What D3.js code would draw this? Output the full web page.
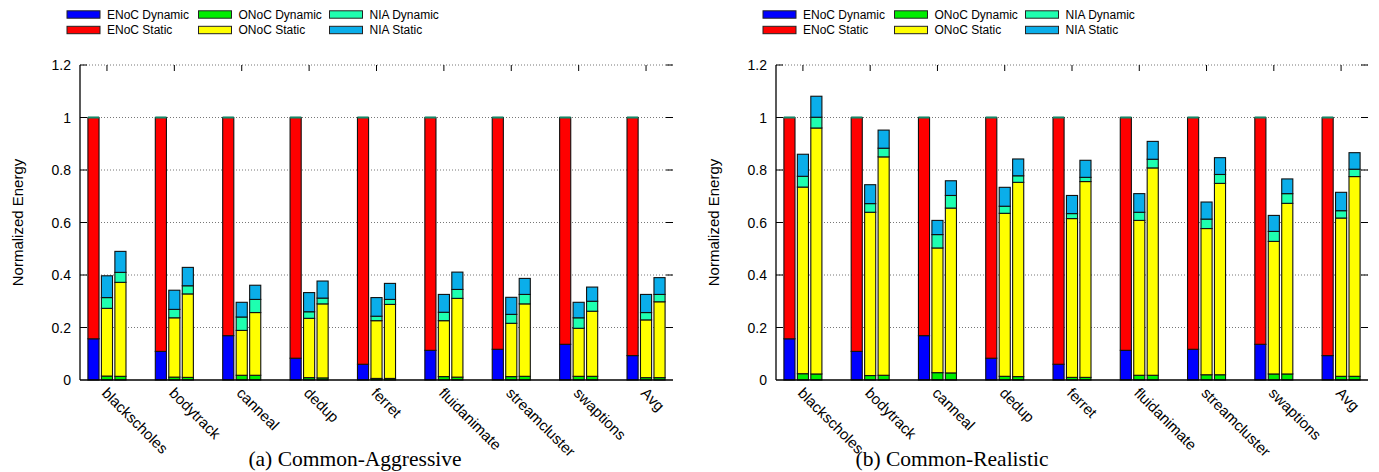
<!DOCTYPE html>
<html>
<head>
<meta charset="utf-8">
<script src="https://cdn.jsdelivr.net/npm/d3@7/dist/d3.min.js"></script>
<style>
  body { margin: 0; background: #fff; }
  svg { display: block; font-family: "Liberation Sans", Arial, sans-serif; }
</style>
</head>
<body>
<div id="chart"></div>
<script>
const categories = ['blackscholes', 'bodytrack', 'canneal', 'dedup', 'ferret',
  'fluidanimate', 'streamcluster', 'swaptions', 'Avg'];
const seriesNames = ['ENoC Dynamic', 'ENoC Static', 'ONoC Dynamic', 'ONoC Static', 'NIA Dynamic', 'NIA Static'];
const seriesColors = ['#0000ff', '#ff0000', '#00ee00', '#ffff00', '#1effb0', '#0aaeea'];
const yTickValues = [0, 0.2, 0.4, 0.6, 0.8, 1, 1.2];
const yTickLabels = ['0', '0.2', '0.4', '0.6', '0.8', '1', '1.2'];

// ENoC bar (same in both panels)
const enocDynamic = [0.157, 0.109, 0.169, 0.083, 0.060, 0.113, 0.117, 0.136, 0.093];
const enocStatic  = [0.843, 0.891, 0.831, 0.917, 0.940, 0.887, 0.883, 0.864, 0.907];

// (a) Common-Aggressive, middle bar
const aggOnocDynB = [0.015, 0.011, 0.018, 0.009, 0.006, 0.013, 0.013, 0.014, 0.009];
const aggOnocStaB = [0.258, 0.226, 0.171, 0.226, 0.220, 0.213, 0.203, 0.183, 0.220];
const aggNiaDynB  = [0.041, 0.032, 0.051, 0.025, 0.017, 0.032, 0.034, 0.040, 0.028];
const aggNiaStaB  = [0.083, 0.073, 0.056, 0.073, 0.071, 0.068, 0.065, 0.059, 0.069];
// (a) Common-Aggressive, right bar
const aggOnocDynC = [0.014, 0.010, 0.018, 0.008, 0.006, 0.011, 0.014, 0.014, 0.009];
const aggOnocStaC = [0.358, 0.318, 0.239, 0.282, 0.282, 0.300, 0.276, 0.248, 0.289];
const aggNiaDynC  = [0.038, 0.031, 0.050, 0.022, 0.019, 0.034, 0.036, 0.038, 0.028];
const aggNiaStaC  = [0.080, 0.070, 0.054, 0.065, 0.061, 0.066, 0.061, 0.054, 0.064];

// (b) Common-Realistic, middle bar
const realOnocDynB = [0.024, 0.017, 0.028, 0.014, 0.010, 0.018, 0.020, 0.023, 0.014];
const realOnocStaB = [0.711, 0.622, 0.475, 0.621, 0.605, 0.590, 0.557, 0.505, 0.603];
const realNiaDynB  = [0.041, 0.033, 0.051, 0.027, 0.019, 0.031, 0.036, 0.038, 0.028];
const realNiaStaB  = [0.084, 0.072, 0.054, 0.072, 0.069, 0.071, 0.065, 0.061, 0.070];
// (b) Common-Realistic, right bar
const realOnocDynC = [0.023, 0.018, 0.027, 0.013, 0.010, 0.018, 0.020, 0.023, 0.014];
const realOnocStaC = [0.937, 0.832, 0.628, 0.740, 0.746, 0.790, 0.729, 0.650, 0.761];
const realNiaDynC  = [0.041, 0.033, 0.048, 0.025, 0.016, 0.033, 0.034, 0.037, 0.028];
const realNiaStaC  = [0.080, 0.069, 0.056, 0.064, 0.065, 0.068, 0.064, 0.056, 0.063];

const width = 1379;
const height = 472;
const plotTop = 65;
const plotBottom = 380;
const barOffsets = [-0.2, 0, 0.2];
const barWidth = 0.165;

const svg = d3.select('#chart')
  .append('svg')
  .attr('width', width)
  .attr('height', height);

const buildRows = (onoc) => {
  const rows = [];
  categories.forEach((c, i) => {
    rows.push({ cat: i, bar: 0, 'ENoC Dynamic': enocDynamic[i], 'ENoC Static': enocStatic[i],
      'ONoC Dynamic': 0, 'ONoC Static': 0, 'NIA Dynamic': 0, 'NIA Static': 0 });
    onoc.forEach((b, j) => {
      rows.push({ cat: i, bar: j + 1, 'ENoC Dynamic': 0, 'ENoC Static': 0,
        'ONoC Dynamic': b[0][i], 'ONoC Static': b[1][i], 'NIA Dynamic': b[2][i], 'NIA Static': b[3][i] });
    });
  });
  return rows;
};

const panels = [
  { left: 80, right: 673, caption: '(a) Common-Aggressive', captionX: 355,
    rows: buildRows([[aggOnocDynB, aggOnocStaB, aggNiaDynB, aggNiaStaB],
                     [aggOnocDynC, aggOnocStaC, aggNiaDynC, aggNiaStaC]]) },
  { left: 776, right: 1368, caption: '(b) Common-Realistic', captionX: 952,
    rows: buildRows([[realOnocDynB, realOnocStaB, realNiaDynB, realNiaStaB],
                     [realOnocDynC, realOnocStaC, realNiaDynC, realNiaStaC]]) }
];

const drawPanel = (p) => {
  const g = svg.append('g');
  const x = d3.scaleLinear().domain([-0.4, 8.4]).range([p.left, p.right]);
  const y = d3.scaleLinear().domain([0, 1.2]).range([plotBottom, plotTop]);
  const bw = x(barWidth) - x(0);

  // grid + y ticks
  yTickValues.forEach((v, i) => {
    if (v > 0) {
      g.append('line')
        .attr('x1', p.left).attr('x2', p.right)
        .attr('y1', y(v)).attr('y2', y(v))
        .attr('stroke', '#777')
        .attr('stroke-dasharray', '1,2');
      g.append('line').attr('x1', p.left).attr('x2', p.left + 7)
        .attr('y1', y(v)).attr('y2', y(v)).attr('stroke', '#000');
      g.append('line').attr('x1', p.right - 7).attr('x2', p.right)
        .attr('y1', y(v)).attr('y2', y(v)).attr('stroke', '#000');
    }
    g.append('text')
      .attr('x', p.left - 9)
      .attr('y', y(v))
      .attr('dy', '0.36em')
      .attr('text-anchor', 'end')
      .style('font-size', '14px')
      .text(yTickLabels[i]);
  });

  // top x ticks
  categories.forEach((c, i) => {
    g.append('line')
      .attr('x1', x(i)).attr('x2', x(i))
      .attr('y1', plotTop).attr('y2', plotTop + 6)
      .attr('stroke', '#000');
  });

  // bars
  const stack = d3.stack().keys(seriesNames);
  const layers = stack(p.rows);
  layers.forEach((layer, k) => {
    g.append('g')
      .selectAll('rect')
      .data(layer.filter(d => d[1] - d[0] > 0))
      .enter().append('rect')
      .attr('x', d => x(d.data.cat + barOffsets[d.data.bar]) - bw / 2)
      .attr('y', d => y(d[1]))
      .attr('width', bw)
      .attr('height', d => y(d[0]) - y(d[1]))
      .attr('fill', seriesColors[k])
      .attr('stroke', '#111')
      .attr('stroke-width', 1.1);
  });
  // zero-height boxes stacked on top of the ENoC bars
  const enocTop = layers[layers.length - 1].filter(d => d.data.bar === 0);
  g.append('g')
    .selectAll('line')
    .data(enocTop)
    .enter().append('line')
    .attr('x1', d => x(d.data.cat + barOffsets[0]) - bw / 2)
    .attr('x2', d => x(d.data.cat + barOffsets[0]) + bw / 2)
    .attr('y1', d => y(d[1]))
    .attr('y2', d => y(d[1]))
    .attr('stroke', '#138a68')
    .attr('stroke-width', 2);

  // axes lines
  g.append('line').attr('x1', p.left).attr('x2', p.left)
    .attr('y1', plotTop).attr('y2', plotBottom).attr('stroke', '#000').attr('stroke-width', 1.3);
  g.append('line').attr('x1', p.left).attr('x2', p.right)
    .attr('y1', plotBottom).attr('y2', plotBottom).attr('stroke', '#000').attr('stroke-width', 1.3);

  // x labels
  categories.forEach((c, i) => {
    g.append('text')
      .attr('transform', `translate(${x(i) - 6}, ${plotBottom + 14}) rotate(45)`)
      .style('font-size', '15px')
      .text(c);
  });

  // y title
  g.append('text')
    .attr('transform', `translate(${p.left - 57}, ${(plotTop + plotBottom) / 2}) rotate(-90)`)
    .attr('text-anchor', 'middle')
    .style('font-size', '15px')
    .text('Normalized Energy');

  // legend
  const legendCols = [-13, 118.5, 249.5];
  seriesNames.forEach((name, k) => {
    const lx = p.left + legendCols[Math.floor(k / 2)];
    const ly = k % 2 === 0 ? 14.5 : 30;
    g.append('rect')
      .attr('x', lx).attr('y', ly - 3.7)
      .attr('width', 33).attr('height', 7.4)
      .attr('fill', seriesColors[k])
      .attr('stroke', '#222');
    g.append('text')
      .attr('x', lx + 40).attr('y', ly)
      .attr('dy', '0.36em')
      .style('font-size', '12px')
      .text(name);
  });

  // caption
  g.append('text')
    .attr('x', p.captionX).attr('y', 466)
    .attr('text-anchor', 'middle')
    .style('font-family', '"Liberation Serif", "Times New Roman", serif')
    .style('font-size', '21.5px')
    .text(p.caption);
};

panels.forEach(drawPanel);
</script>
</body>
</html>
